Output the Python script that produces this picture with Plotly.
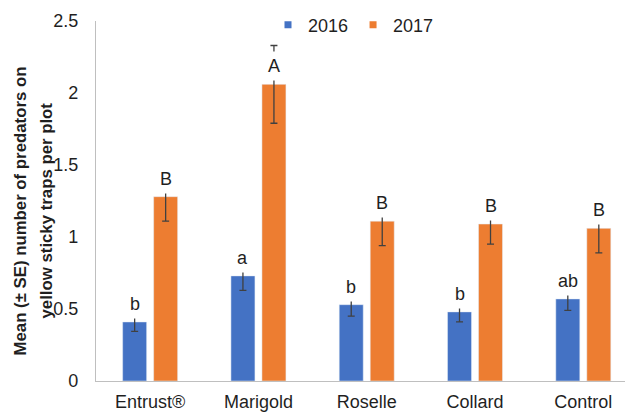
import plotly.graph_objects as go

categories = ["Entrust®", "Marigold", "Roselle", "Collard", "Control"]
mean_2016 = [0.41, 0.73, 0.53, 0.48, 0.57]
se_2016 = [0.065, 0.10, 0.08, 0.07, 0.08]
mean_2017 = [1.28, 2.06, 1.11, 1.09, 1.06]
se_2017 = [0.17, 0.27, 0.17, 0.14, 0.17]
letters_2016 = ["b", "a", "b", "b", "ab"]
letters_2017 = ["B", "A", "B", "B", "B"]
years = ["2016", "2017"]
y_title_lines = ["Mean (± SE) number of predators on", "yellow sticky traps per plot"]
y_ticks = [0, 0.5, 1, 1.5, 2, 2.5]
y_tick_text = ["0", "0.5", "1", "1.5", "2", "2.5"]

FONT = "Liberation Sans, Arial, sans-serif"
BLUE = "#4472C4"
ORANGE = "#ED7D31"
ERR = "#404040"
TXT = "#1f1f1f"
L, W = 96, 529

fig = go.Figure()
for name, vals, se, col in ((years[0], mean_2016, se_2016, BLUE), (years[1], mean_2017, se_2017, ORANGE)):
    fig.add_trace(go.Bar(
        name=name, x=categories, y=vals, marker_color=col, showlegend=False,
        error_y=dict(type="data", array=se, visible=True, color=ERR, thickness=1.3, width=3.5),
    ))
# legend entries (small square keys)
for name, col in ((years[0], BLUE), (years[1], ORANGE)):
    fig.add_trace(go.Scatter(
        name=name, x=[None], y=[None], mode="markers",
        marker=dict(symbol="square", size=7, color=col), showlegend=True,
    ))

for i, c in enumerate(categories):
    for vals, labs, xs in ((mean_2016, letters_2016, -15.5), (mean_2017, letters_2017, 15.5)):
        fig.add_annotation(
            x=c, y=vals[i], xref="x", yref="y", text=labs[i], showarrow=False,
            xshift=xs, yshift=18, yanchor="middle", xanchor="center",
            bgcolor="white", borderpad=4,
            font=dict(family=FONT, size=18, color=TXT),
        )

for line, px in zip(y_title_lines, (19.5, 45.5)):
    fig.add_annotation(
        x=(px - L) / W, y=(381 - 202) / 360, xref="paper", yref="paper", yshift=-9,
        text="<b>" + line + "</b>",
        textangle=-90, showarrow=False, xanchor="center", yanchor="middle",
        font=dict(family=FONT, size=16.8, color=TXT),
    )

fig.update_layout(
    width=625, height=412,
    margin=dict(l=L, r=0, t=21, b=31),
    paper_bgcolor="white", plot_bgcolor="white",
    barmode="group", bargap=0.4275, bargroupgap=0.226,
    font=dict(family=FONT, size=18, color=TXT),
    showlegend=True,
    legend=dict(orientation="h", x=(268 - L) / W, xanchor="left", y=0.989, yanchor="middle",
                font=dict(family=FONT, size=18, color=TXT),
                bgcolor="rgba(255,255,255,0)", itemwidth=30, traceorder="normal",
                borderwidth=0),
    xaxis=dict(range=[-0.5, 4.385], showline=True, linecolor="#bfbfbf", linewidth=1.2,
               ticks="", showgrid=False, tickfont=dict(size=18, color=TXT),
               ticklabelstandoff=4),
    yaxis=dict(range=[0, 2.5], tickvals=y_ticks, ticktext=y_tick_text, showline=True,
               linecolor="#bfbfbf", linewidth=1.2, showgrid=False, zeroline=False,
               ticks="", tickfont=dict(size=18, color=TXT), ticklabelstandoff=13),
)

fig.write_html("out.html")
